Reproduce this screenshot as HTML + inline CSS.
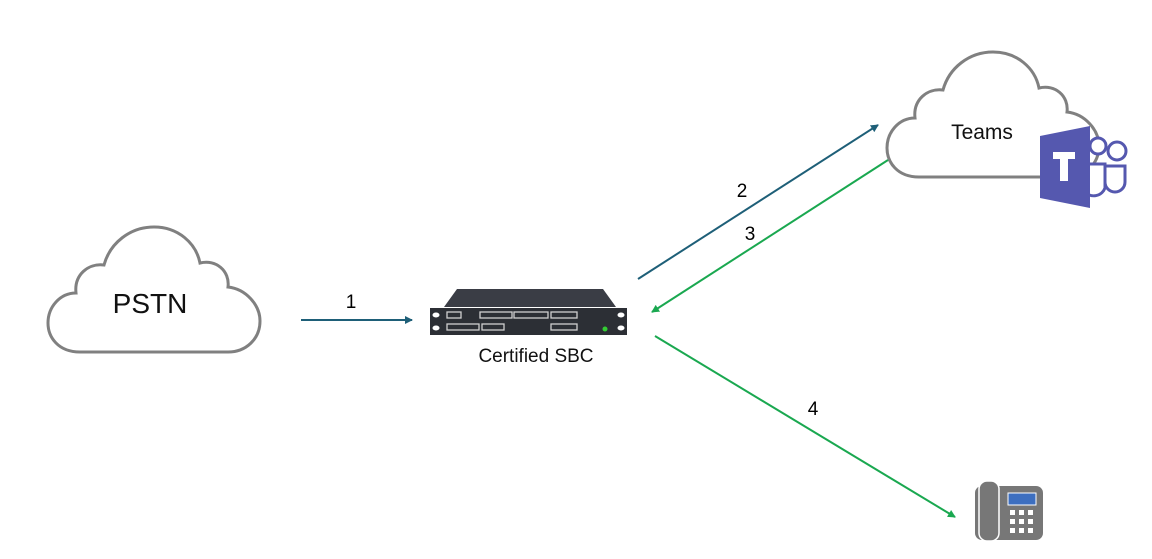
<!DOCTYPE html>
<html><head><style>body{margin:0;background:#fff}svg{display:block}text{font-family:"Liberation Sans",sans-serif}</style></head>
<body>
<svg width="1152" height="559" viewBox="0 0 1152 559">
<defs>
<path id="cloud" d="M32,127 C10,127 0,112 0,98 C0,82 12,68 28,68 C26,50 40,38 56,40 C62,18 82,2 106,2 C130,2 148,18 152,38 C168,34 182,46 180,62 C198,64 212,80 212,96 C212,114 198,127 180,127 Z" fill="#fff" stroke="#808080" stroke-width="3"/>
<marker id="ab" markerWidth="8" markerHeight="8" refX="7" refY="4" orient="auto" markerUnits="userSpaceOnUse"><path d="M0,0 L8,4 L0,8 Z" fill="#1e5f78"/></marker>
<marker id="ag" markerWidth="8" markerHeight="8" refX="7" refY="4" orient="auto" markerUnits="userSpaceOnUse"><path d="M0,0 L8,4 L0,8 Z" fill="#1aa850"/></marker>
</defs>
<use href="#cloud" transform="translate(48,225)"/>
<text x="150" y="313" font-size="28" text-anchor="middle" fill="#111">PSTN</text>
<use href="#cloud" transform="translate(887,50)"/>
<text x="982" y="139" font-size="21" text-anchor="middle" fill="#111">Teams</text>
<!-- Teams logo -->
<circle cx="1117" cy="151" r="9" fill="#fff" stroke="#5558af" stroke-width="3"/>
<circle cx="1098" cy="146" r="8" fill="#fff" stroke="#5558af" stroke-width="3"/>
<path d="M1103,166 h22 v16 a10,10 0 0 1 -20,0 z" fill="#fff" stroke="#5558af" stroke-width="3"/>
<path d="M1085,164 h20 v24 a12,12 0 0 1 -20,4 z" fill="#fff" stroke="#5558af" stroke-width="3"/>
<path d="M1040,136 L1090,126 L1090,208 L1040,198 Z" fill="#5558af"/>
<path d="M1053,152 h22 v7 h-7 v22 h-8 v-22 h-7 z" fill="#fff"/>
<!-- arrows -->
<line x1="301" y1="320" x2="412" y2="320" stroke="#1e5f78" stroke-width="2" marker-end="url(#ab)"/>
<line x1="638" y1="279" x2="878" y2="125" stroke="#1e5f78" stroke-width="2" marker-end="url(#ab)"/>
<line x1="888" y1="160" x2="652" y2="312" stroke="#1aa850" stroke-width="2" marker-end="url(#ag)"/>
<line x1="655" y1="336" x2="955" y2="517" stroke="#1aa850" stroke-width="2" marker-end="url(#ag)"/>
<text x="351" y="308" font-size="19" text-anchor="middle">1</text>
<text x="742" y="197" font-size="19" text-anchor="middle">2</text>
<text x="750" y="240" font-size="19" text-anchor="middle">3</text>
<text x="813" y="415" font-size="19" text-anchor="middle">4</text>
<!-- SBC -->
<path d="M457,289 L603,289 L616,307 L444,307 Z" fill="#3a3d45"/>
<rect x="430" y="308" width="197" height="27" fill="#2c2f35"/>
<g fill="#fff"><ellipse cx="436" cy="315" rx="3.5" ry="2.5"/><ellipse cx="436" cy="328" rx="3.5" ry="2.5"/><ellipse cx="621" cy="315" rx="3.5" ry="2.5"/><ellipse cx="621" cy="328" rx="3.5" ry="2.5"/></g>
<g fill="none" stroke="#cfcfcf" stroke-width="1.3">
<rect x="447" y="312" width="14" height="6"/><rect x="480" y="312" width="32" height="6"/><rect x="514" y="312" width="34" height="6"/><rect x="551" y="312" width="26" height="6"/>
<rect x="447" y="324" width="32" height="6"/><rect x="482" y="324" width="22" height="6"/><rect x="551" y="324" width="26" height="6"/></g>
<circle cx="605" cy="329" r="2.5" fill="#3c3"/>
<text x="536" y="362" font-size="19" text-anchor="middle" fill="#111">Certified SBC</text>
<!-- phone -->
<rect x="975" y="486" width="68" height="54" rx="7" fill="#777"/>
<rect x="979" y="481" width="20" height="60" rx="8" fill="#777" stroke="#fff" stroke-width="1.5"/>
<rect x="1008" y="493" width="28" height="12" fill="#3d6fc0" stroke="#fff" stroke-width="1"/>
<g fill="#fff"><rect x="1010" y="510" width="5" height="5"/><rect x="1019" y="510" width="5" height="5"/><rect x="1028" y="510" width="5" height="5"/><rect x="1010" y="519" width="5" height="5"/><rect x="1019" y="519" width="5" height="5"/><rect x="1028" y="519" width="5" height="5"/><rect x="1010" y="528" width="5" height="5"/><rect x="1019" y="528" width="5" height="5"/><rect x="1028" y="528" width="5" height="5"/></g>
</svg>
</body></html>
